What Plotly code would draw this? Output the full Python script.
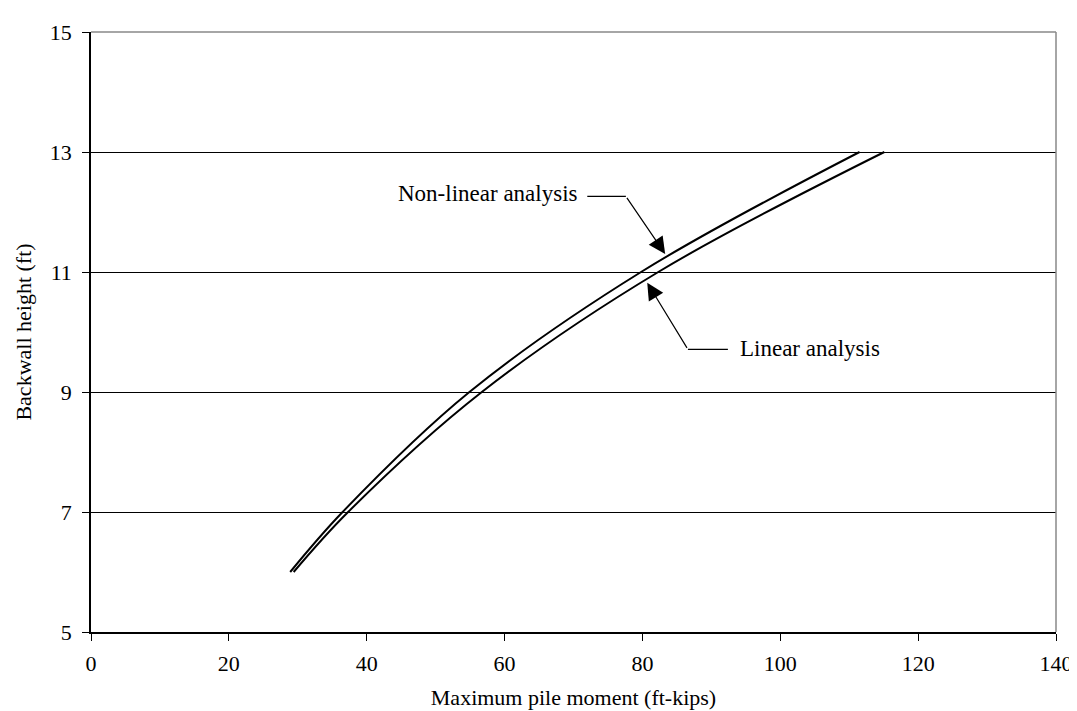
import plotly.graph_objects as go

# Data
heights = [6, 7, 9, 11, 13]
moment_nonlinear = [28.9, 36.5, 54.9, 79.8, 111.5]
moment_linear = [29.4, 37.3, 56.7, 82.3, 115.1]

x_ticks = [0, 20, 40, 60, 80, 100, 120, 140]
y_ticks = [5, 7, 9, 11, 13, 15]

FONT = "Liberation Serif, Times New Roman, serif"

fig = go.Figure()
fig.add_trace(go.Scatter(x=moment_nonlinear, y=heights, mode="lines",
                         line=dict(color="black", width=2, shape="spline"),
                         name="Non-linear analysis", showlegend=False))
fig.add_trace(go.Scatter(x=moment_linear, y=heights, mode="lines",
                         line=dict(color="black", width=2, shape="spline"),
                         name="Linear analysis", showlegend=False))

# Leader lines (horizontal elbow segments)
fig.add_shape(type="line", x0=72.0, y0=12.26, x1=77.6, y1=12.26,
              line=dict(color="black", width=1.3))
fig.add_shape(type="line", x0=86.6, y0=9.71, x1=92.4, y1=9.71,
              line=dict(color="black", width=1.3))
# Grey plot border top/right
fig.add_shape(type="line", xref="paper", yref="paper", x0=0, y0=1, x1=1, y1=1,
              line=dict(color="#888888", width=1.5))
fig.add_shape(type="line", xref="paper", yref="paper", x0=1, y0=0, x1=1, y1=1,
              line=dict(color="#888888", width=1.5))

# Arrows
fig.add_annotation(x=83.3, y=11.30, ax=77.6, ay=12.26, xref="x", yref="y",
                   axref="x", ayref="y", text="", showarrow=True,
                   arrowhead=2, arrowsize=2.8, arrowwidth=1.2, arrowcolor="black")
fig.add_annotation(x=80.7, y=10.82, ax=86.6, ay=9.71, xref="x", yref="y",
                   axref="x", ayref="y", text="", showarrow=True,
                   arrowhead=2, arrowsize=2.8, arrowwidth=1.2, arrowcolor="black")
# Labels
fig.add_annotation(x=71.0, y=12.31, text="Non-linear analysis", showarrow=False,
                   xanchor="right", yanchor="middle",
                   font=dict(family=FONT, size=23, color="black"))
fig.add_annotation(x=93.8, y=9.73, text="Linear analysis", showarrow=False,
                   xanchor="left", yanchor="middle",
                   font=dict(family=FONT, size=23, color="black"))

fig.update_xaxes(range=[0, 140], tickvals=x_ticks, ticks="outside", ticklen=7,
                 tickcolor="black", showline=True, linecolor="black", linewidth=1.5,
                 showgrid=False, zeroline=False, ticklabelstandoff=4,
                 title=dict(text="Maximum pile moment (ft-kips)", standoff=14,
                            font=dict(family=FONT, size=22, color="black")),
                 tickfont=dict(family=FONT, size=22, color="black"))
fig.update_yaxes(range=[5, 15], tickvals=y_ticks, ticks="outside", ticklen=7,
                 tickcolor="black", showline=True, linecolor="black", linewidth=1.5,
                 showgrid=True, gridcolor="black", gridwidth=1.3, zeroline=False,
                 ticklabelstandoff=6,
                 title=dict(text="Backwall height (ft)", standoff=12,
                            font=dict(family=FONT, size=22, color="black")),
                 tickfont=dict(family=FONT, size=22, color="black"))

fig.update_layout(width=1077, height=711, plot_bgcolor="white", paper_bgcolor="white",
                  margin=dict(l=83, r=23, t=19, b=87), showlegend=False,
                  font=dict(family=FONT, size=22, color="black"))

fig.write_html("out.html")
